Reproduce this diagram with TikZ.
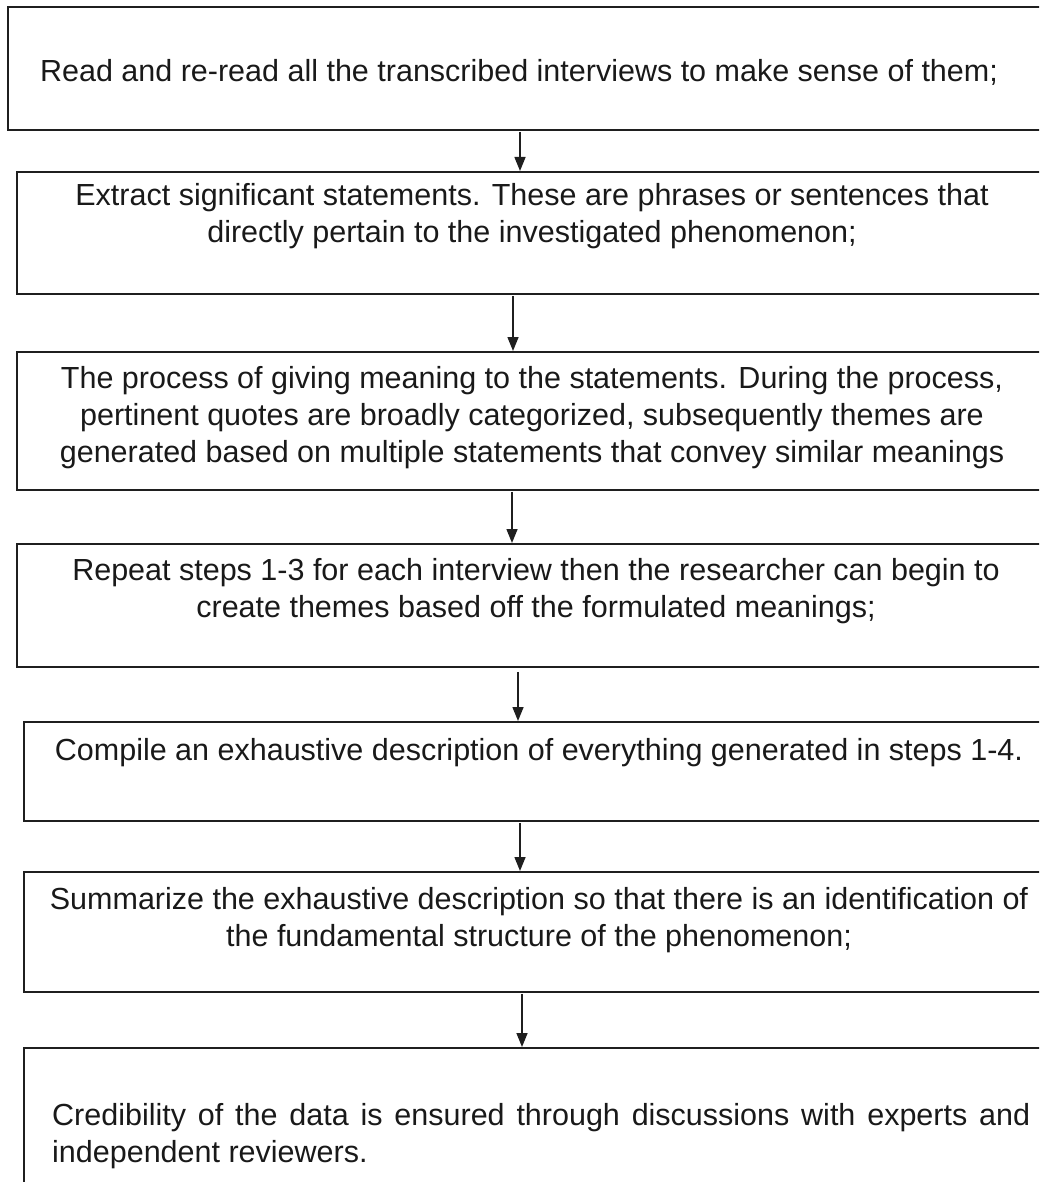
\documentclass[tikz,border=0pt]{standalone}
\usepackage{fontspec}
\setmainfont{Liberation Sans}
\usetikzlibrary{arrows.meta}
\begin{document}
\begin{tikzpicture}[x=1pt, y=-1pt,
  stepbox/.style={draw=black!88, line width=1.9pt, rectangle, inner sep=0pt,
    minimum width=1080pt, anchor=north west},
  steptext/.style={font=\fontsize{30.5}{37}\selectfont, text=black!90,
    inner sep=0pt, align=center, anchor=base},
  flow/.style={draw=black!88, line width=1.5pt, -{Triangle[length=14pt,width=11pt]}}]
\useasboundingbox (0,0) rectangle (1039,1182);
\clip (0,0) rectangle (1039,1182);

% step boxes (their right edges run past the page)
\node[stepbox, minimum height=123pt] (b1) at (7,6) {};
\node[stepbox, minimum height=122pt] (b2) at (16,171) {};
\node[stepbox, minimum height=138pt] (b3) at (16,351) {};
\node[stepbox, minimum height=123pt] (b4) at (16,543) {};
\node[stepbox, minimum height=99pt]  (b5) at (23,721) {};
\node[stepbox, minimum height=120pt] (b6) at (23,871) {};
\node[stepbox, minimum height=200pt] (b7) at (23,1047) {};

% step texts
\node[steptext] (t1) at (519,82)
  {Read and re-read all the transcribed interviews to make sense of them;};
\node[steptext] (t2) at (532,243)
  {Extract significant statements. These are phrases or sentences that\\
   directly pertain to the investigated phenomenon;};
\node[steptext] (t3) at (532,462)
  {The process of giving meaning to the statements. During the process,\\
   pertinent quotes are broadly categorized, subsequently themes are\\
   generated based on multiple statements that convey similar meanings};
\node[steptext] (t4) at (536,617)
  {Repeat steps 1-3 for each interview then the researcher can begin to\\
   create themes based off the formulated meanings;};
\node[steptext] (t5) at (539,760)
  {Compile an exhaustive description of everything generated in steps 1-4.};
\node[steptext] (t6) at (539,946)
  {Summarize the exhaustive description so that there is an identification of\\
   the fundamental structure of the phenomenon;};
\node[steptext, align=justify, text width=978pt, anchor=base west] (t7) at (52,1125)
  {Credibility of the data is ensured through discussions with experts and\linebreak
   independent reviewers.};

% connectors between consecutive steps
\draw[flow] ([xshift=513pt,yshift=-1pt]b1.south west) -- ([xshift=504pt]b2.north west);
\draw[flow] ([xshift=497pt,yshift=-1pt]b2.south west) -- ([xshift=497pt]b3.north west);
\draw[flow] ([xshift=496pt,yshift=-1pt]b3.south west) -- ([xshift=496pt]b4.north west);
\draw[flow] ([xshift=502pt,yshift=-4pt]b4.south west) -- ([xshift=495pt]b5.north west);
\draw[flow] ([xshift=497pt,yshift=-1pt]b5.south west) -- ([xshift=497pt]b6.north west);
\draw[flow] ([xshift=499pt,yshift=-1pt]b6.south west) -- ([xshift=499pt]b7.north west);
\end{tikzpicture}
\end{document}
